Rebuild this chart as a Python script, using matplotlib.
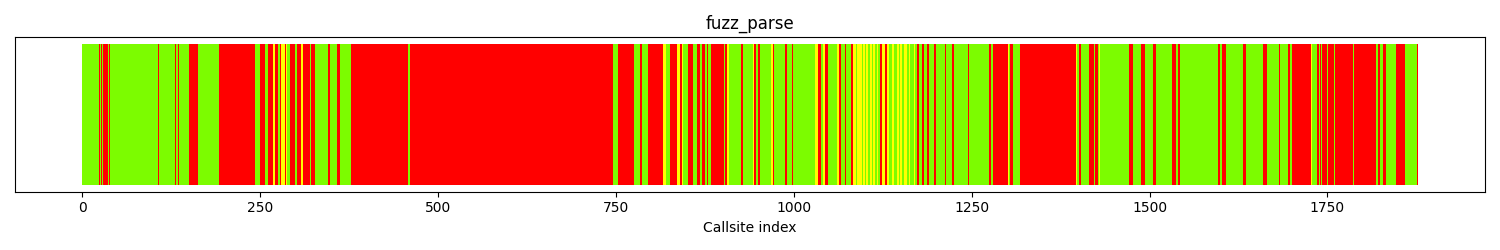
import matplotlib
matplotlib.use("Agg")
from matplotlib import pyplot as plt

###
# Callsite coverage strip for fuzz_parse
###

# run-length encoded callsite status: run i ends (exclusive) at run_ends[i]
# and has status run_codes[i] (g = hit, r = not hit, y = partly hit)
run_ends = [
    21, 22, 24, 25, 27, 29, 30, 32, 33, 35, 36, 37, 38, 40, 46, 47,
    107, 108, 131, 132, 135, 136, 150, 151, 163, 181, 182, 193,
    233, 234, 236, 237, 243, 250, 257, 261, 268, 271, 275, 278, 280,
    285, 287, 289, 292, 299, 303, 308, 311, 320, 322, 327, 346, 349,
    359, 363, 378, 458, 461, 747, 754, 776, 784, 787, 795, 817, 821,
    826, 836, 841, 843, 845, 852, 859, 864, 869, 871, 876, 878, 880,
    884, 888, 889, 895, 896, 902, 904, 907, 909, 927, 929, 943, 945,
    948, 950, 953, 969, 971, 973, 988, 991, 998, 999, 1031, 1035,
    1039, 1042, 1045, 1049, 1061, 1064, 1067, 1072, 1074, 1081, 1084,
    1088, 1090, 1096, 1098, 1100, 1102, 1105, 1107, 1110, 1112, 1114,
    1117, 1119, 1122, 1124, 1129, 1131, 1134, 1138, 1141, 1145, 1148,
    1150, 1153, 1156, 1159, 1162, 1164, 1169, 1171, 1174, 1176, 1181,
    1184, 1188, 1191, 1197, 1201, 1213, 1215, 1223, 1225, 1245, 1247,
    1275, 1277, 1280, 1301, 1303, 1305, 1308, 1318, 1397, 1399, 1401,
    1404, 1415, 1419, 1420, 1422, 1424, 1428, 1430, 1431, 1471, 1477,
    1488, 1494, 1505, 1509, 1530, 1531, 1532, 1538, 1541, 1543, 1597,
    1600, 1603, 1608, 1632, 1636, 1660, 1665, 1682, 1684, 1695, 1698,
    1700, 1728, 1729, 1736, 1738, 1740, 1742, 1743, 1745, 1746, 1750, 1751,
    1760, 1761, 1787, 1788, 1819, 1822, 1824, 1829, 1833, 1847, 1860, 1876, 1878,
]
run_codes = (
    "grgrgrgrgrgrgrgr"
    "grgrgrgyrgyg"
    "ryrgrgrgryrgr"
    "yrygrgryrgrgr"
    "grgrgrgrgrgry"
    "gryrygrgrgrgr"
    "grgrgrgrygrgy"
    "rgrgyrgrgrgy"
    "rgyrgyrgrgr"
    "ygygygygygy"
    "gygryrygygy"
    "gygygygygrg"
    "rgrgrgrgrgr"
    "grgrygrgryg"
    "rgrgrgrgygr"
    "grgrgygrgrg"
    "rgrgrgrgrgr"
    "grygrgrgrgrg"
    "rgrgrgrgrgrgr"
)
colour_map = {"g": "lawngreen", "r": "red", "y": "yellow"}
assert len(run_ends) == len(run_codes)

status = []
start = 0
for end, code in zip(run_ends, run_codes):
    status += [code] * (end - start)
    start = end

callsites = list(range(len(status)))
colours = [colour_map[c] for c in status]

fig, ax = plt.subplots(figsize=(15, 2.5), dpi=100)
ax.bar(callsites, [1] * len(callsites), width=1.0, color=colours, linewidth=0)
ax.set_ylim(-0.05, 1.05)
ax.set_yticks([])
ax.set_title("fuzz_parse")
ax.set_xlabel("Callsite index")
plt.tight_layout()
plt.savefig("out.png")
